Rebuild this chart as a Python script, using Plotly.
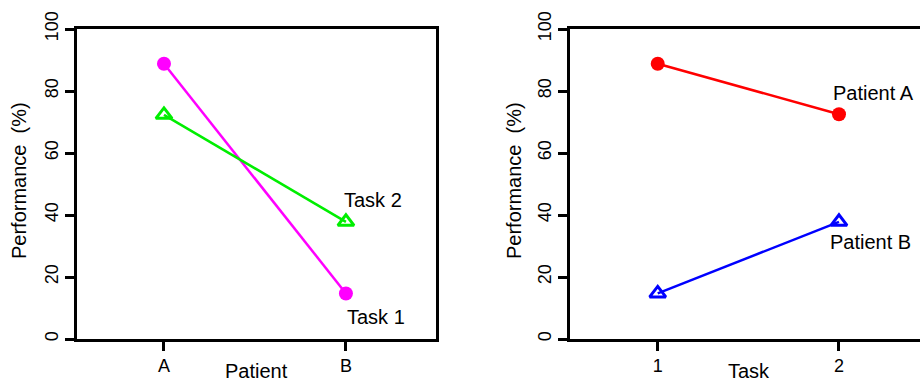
import plotly.graph_objects as go

# ---- data ----
patients = ["A", "B"]
tasks = ["1", "2"]
task1_perf = [88.8, 14.7]
task2_perf = [72.3, 37.8]
patientA_perf = [88.8, 72.5]
patientB_perf = [14.7, 37.8]
y_ticks = [0, 20, 40, 60, 80, 100]

FONT = "Liberation Sans, Arial, sans-serif"
TICK_SIZE = 18
TITLE_SIZE = 20

fig = go.Figure()

# left panel: performance by patient
fig.add_trace(go.Scatter(x=patients, y=task1_perf, mode="lines+markers",
                         line=dict(color="#ff00ff", width=2.5),
                         marker=dict(symbol="circle", size=14, color="#ff00ff"),
                         xaxis="x", yaxis="y", showlegend=False))
fig.add_trace(go.Scatter(x=patients, y=task2_perf, mode="lines+markers",
                         line=dict(color="#00ee00", width=2.5),
                         marker=dict(symbol="triangle-up-open", size=14, color="#00ee00",
                                     line=dict(width=3, color="#00ee00")),
                         xaxis="x", yaxis="y", showlegend=False))

# right panel: performance by task
fig.add_trace(go.Scatter(x=tasks, y=patientA_perf, mode="lines+markers",
                         line=dict(color="#ff0000", width=2.5),
                         marker=dict(symbol="circle", size=14, color="#ff0000"),
                         xaxis="x2", yaxis="y2", showlegend=False))
fig.add_trace(go.Scatter(x=tasks, y=patientB_perf, mode="lines+markers",
                         line=dict(color="#0000ff", width=2.5),
                         marker=dict(symbol="triangle-up-open", size=14, color="#0000ff",
                                     line=dict(width=3, color="#0000ff")),
                         xaxis="x2", yaxis="y2", showlegend=False))

ydom = [46 / 385, 356 / 385]

common_x = dict(type="category", showgrid=False, zeroline=False, showline=True,
                linecolor="black", linewidth=2.5, ticks="outside", ticklen=9,
                tickwidth=2.5, tickcolor="black", automargin=False,
                tickfont=dict(family=FONT, size=TICK_SIZE, color="black"))
common_y = dict(range=[0, 100], tickvals=y_ticks, showgrid=False, zeroline=False,
                showline=True, linecolor="black", linewidth=2.5, ticks="outside",
                ticklen=9, tickwidth=2.5, tickcolor="black", tickangle=-90,
                automargin=False,
                tickfont=dict(family=FONT, size=TICK_SIZE, color="black"),
                domain=ydom)

fig.update_layout(
    width=920, height=385,
    margin=dict(l=0, r=0, t=0, b=0),
    paper_bgcolor="white", plot_bgcolor="white",
    font=dict(family=FONT, color="black"),
    xaxis=dict(common_x, domain=[77 / 920, 436 / 920], range=[-0.478, 1.495],
               mirror=True, anchor="y"),
    yaxis=dict(common_y, mirror=True, anchor="x"),
    xaxis2=dict(common_x, domain=[570 / 920, 1.0], range=[-0.484, 1.447],
                mirror=True, anchor="y2"),
    yaxis2=dict(common_y, mirror=False, anchor="x2"),
)

ann = []
# axis titles
ann.append(dict(text="Patient", x=256 / 920, y=1 / 385, xref="paper", yref="paper",
                showarrow=False, xanchor="center", yanchor="bottom",
                font=dict(family=FONT, size=TITLE_SIZE)))
ann.append(dict(text="Task", x=749 / 920, y=1 / 385, xref="paper", yref="paper",
                showarrow=False, xanchor="center", yanchor="bottom",
                font=dict(family=FONT, size=TITLE_SIZE)))
for xc in (19, 514):
    ann.append(dict(text="Performance  (%)", x=xc / 920, y=(385 - 181) / 385,
                    xref="paper", yref="paper", showarrow=False, textangle=-90,
                    xanchor="center", yanchor="middle",
                    font=dict(family=FONT, size=TITLE_SIZE)))
# series labels
ann.append(dict(text="Task 2", x=0.978, y=44.8, xref="x", yref="y", showarrow=False,
                xanchor="left", yanchor="middle", font=dict(family=FONT, size=TITLE_SIZE)))
ann.append(dict(text="Task 1", x=0.995, y=7.1, xref="x", yref="y", showarrow=False,
                xanchor="left", yanchor="middle", font=dict(family=FONT, size=TITLE_SIZE)))
ann.append(dict(text="Patient A", x=0.956, y=79.4, xref="x2", yref="y2", showarrow=False,
                xanchor="left", yanchor="middle", font=dict(family=FONT, size=TITLE_SIZE)))
ann.append(dict(text="Patient B", x=0.939, y=31.3, xref="x2", yref="y2", showarrow=False,
                xanchor="left", yanchor="middle", font=dict(family=FONT, size=TITLE_SIZE)))
fig.update_layout(annotations=ann)

fig.write_html("out.html")
